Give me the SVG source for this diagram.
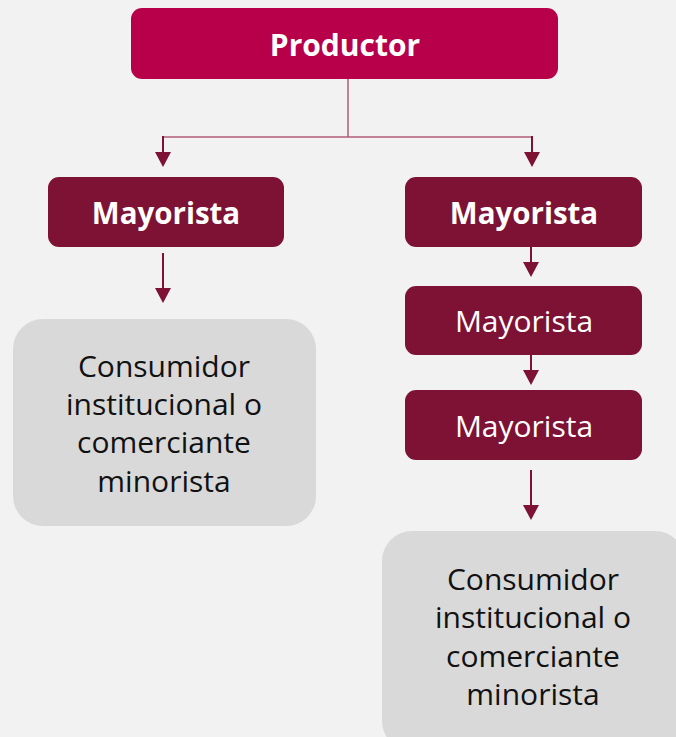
<svg xmlns="http://www.w3.org/2000/svg" width="676" height="737" viewBox="0 0 676 737">
<style>
.bg{fill:#F2F2F2}
.top{fill:#B8004A}
.may{fill:#7D1235}
.cons{fill:#D9D9D9}
.wt{fill:#FFFFFF;font-family:"Open Sans","Noto Sans",sans-serif;text-anchor:middle}
.b{font-weight:bold}
.ct{fill:#111111;font-family:"Open Sans","Noto Sans",sans-serif;font-size:30px;text-anchor:middle}
.thin{stroke:#B05C7C;stroke-width:1.5;fill:none}
.stem{stroke:#7D1235;stroke-width:2}
.head{fill:#7D1235}
</style>
<rect class="bg" x="0" y="0" width="676" height="737"/>
<g id="connectors">
<path class="thin" d="M348,79 V137 M163,137 H532"/>
<line class="stem" x1="163" y1="136" x2="163" y2="152"/>
<polygon class="head" points="155,152 171,152 163,167"/>
<line class="stem" x1="532" y1="136" x2="532" y2="152"/>
<polygon class="head" points="524,152 540,152 532,167"/>
<line class="stem" x1="163" y1="253" x2="163" y2="289"/>
<polygon class="head" points="155,288 171,288 163,303"/>
<line class="stem" x1="531" y1="247" x2="531" y2="263"/>
<polygon class="head" points="523,262 539,262 531,277"/>
<line class="stem" x1="531" y1="355" x2="531" y2="371"/>
<polygon class="head" points="523,370 539,370 531,385"/>
<line class="stem" x1="531" y1="470" x2="531" y2="506"/>
<polygon class="head" points="523,505 539,505 531,520"/>
</g>
<g id="productor">
<rect class="top" x="131" y="8" width="427" height="71" rx="11"/>
<text class="wt b" x="345" y="56" font-size="30">Productor</text>
</g>
<g id="mayorista-left">
<rect class="may" x="48" y="177" width="236" height="70" rx="11"/>
<text class="wt b" x="166" y="224" font-size="29.5">Mayorista</text>
</g>
<g id="consumidor-left">
<rect class="cons" x="13" y="319" width="303" height="207" rx="30"/>
<text class="ct" x="164" y="377">Consumidor</text>
<text class="ct" x="164" y="415">institucional o</text>
<text class="ct" x="164" y="453">comerciante</text>
<text class="ct" x="164" y="492">minorista</text>
</g>
<g id="mayorista-right-1">
<rect class="may" x="405" y="177" width="237" height="70" rx="11"/>
<text class="wt b" x="524" y="224" font-size="29.5">Mayorista</text>
</g>
<g id="mayorista-right-2">
<rect class="may" x="405" y="286" width="237" height="69" rx="11"/>
<text class="wt" x="524" y="332" font-size="30">Mayorista</text>
</g>
<g id="mayorista-right-3">
<rect class="may" x="405" y="390" width="237" height="70" rx="11"/>
<text class="wt" x="524" y="437" font-size="30">Mayorista</text>
</g>
<g id="consumidor-right">
<rect class="cons" x="382" y="531" width="303" height="220" rx="30"/>
<text class="ct" x="533" y="590">Consumidor</text>
<text class="ct" x="533" y="628">institucional o</text>
<text class="ct" x="533" y="667">comerciante</text>
<text class="ct" x="533" y="705">minorista</text>
</g>
</svg>
